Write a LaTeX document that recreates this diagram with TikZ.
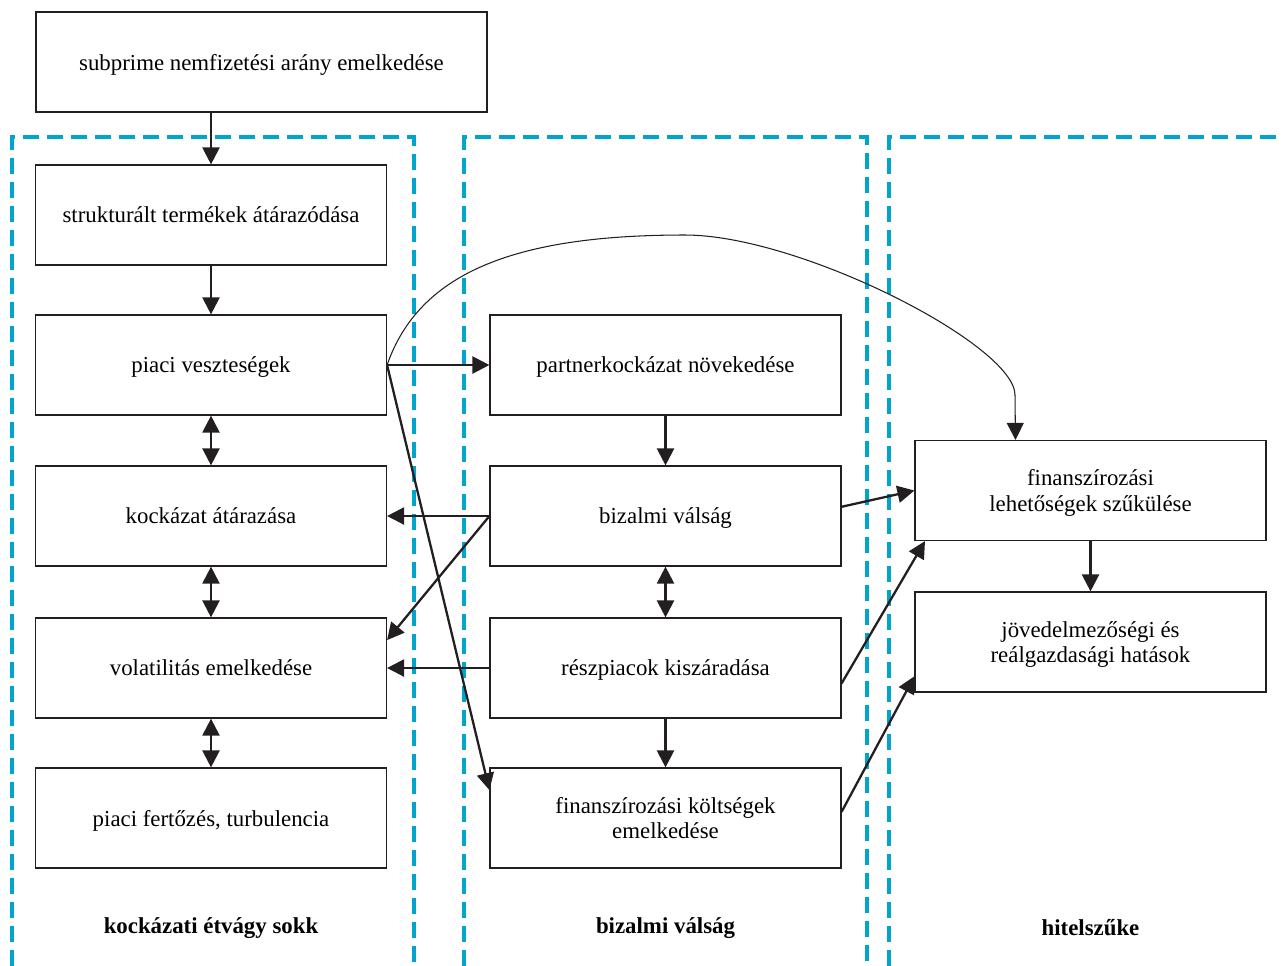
\documentclass[tikz,border=0pt]{standalone}
\usepackage{fontspec}
\setmainfont{Liberation Serif}
\usetikzlibrary{arrows.meta}
\definecolor{keretszin}{RGB}{0,164,204}
\definecolor{vonal}{RGB}{35,31,32}

\begin{document}
\begin{tikzpicture}[x=0.02cm, y=-0.02cm,
	doboz/.style={draw=vonal, line width=0.7pt, minimum width=7.02cm, minimum height=2cm,
		align=center, font=\fontsize{13}{14.5}\selectfont, inner sep=0pt, text depth=0pt},
	nyil/.style={draw=vonal, line width=1.3pt, -{Triangle[length=0.34cm,width=0.34cm]}},
	ketnyil/.style={draw=vonal, line width=1.3pt, {Triangle[length=0.34cm,width=0.34cm]}-{Triangle[length=0.34cm,width=0.34cm]}},
	keret/.style={draw=keretszin, line width=1.8pt, dash pattern=on 0.32cm off 0.16cm},
	cimke/.style={font=\fontsize{13}{16}\selectfont\bfseries}]
			\useasboundingbox (0,0) rectangle (1284,965);

			% Szaggatott keretek
			\draw[keret] (12,990) -- (12,137) -- (414,137) -- (414,990);
			\draw[keret] (464,990) -- (464,137) -- (867,137) -- (867,990);
			\draw[keret] (889,990) -- (889,137) -- (1300,137);

			% Dobozok
			\node[doboz, minimum width=9.02cm] (subprime) at (261.5,62) {subprime nemfizetési arány emelkedése};
			\node[doboz] (strukt) at (211,215) {strukturált termékek átárazódása};
			\node[doboz] (piaci) at (211,365) {piaci veszteségek};
			\node[doboz] (kockazat) at (211,516) {kockázat átárazása};
			\node[doboz] (volat) at (211,668) {volatilitás emelkedése};
			\node[doboz] (fertozes) at (211,818) {piaci fertőzés, turbulencia};

			\node[doboz] (partner) at (665.5,365) {partnerkockázat növekedése};
			\node[doboz] (bizalmi) at (665.5,516) {bizalmi válság};
			\node[doboz] (reszpiac) at (665.5,668) {részpiacok kiszáradása};
			\node[doboz] (koltseg) at (665.5,818) {finanszírozási költségek\\emelkedése};

			\node[doboz] (lehetoseg) at (1090.5,490.5) {finanszírozási\\lehetőségek szűkülése};
			\node[doboz] (jovedelem) at (1090.5,642) {jövedelmezőségi és\\reálgazdasági hatások};

			% Oszlopcimek
			\node[cimke] (cim1) at (211,928) {kockázati étvágy sokk};
			\node[cimke] (cim2) at (665.5,928) {bizalmi válság};
			\node[cimke] (cim3) at (1090.5,928) {hitelszűke};

			% Bal oszlop nyilai
			\draw[nyil] (subprime.south -| strukt.north) -- (strukt.north);
			\draw[nyil] (strukt) -- (piaci);
			\draw[ketnyil] (piaci) -- (kockazat);
			\draw[ketnyil] (kockazat) -- (volat);
			\draw[ketnyil] (volat) -- (fertozes);

			% Kozepso oszlop nyilai
			\draw[nyil] (partner) -- (bizalmi);
			\draw[ketnyil] (bizalmi) -- (reszpiac);
			\draw[nyil] (reszpiac) -- (koltseg);

			% Piaci veszteségek kifelé
			\draw[nyil] (piaci.east) -- (partner.west);
			\draw[nyil] (piaci.east) -- (koltseg.171);
			\coordinate (csucs) at (685,235);
			\draw[vonal, line width=0.6pt, -{Triangle[length=0.34cm,width=0.34cm]}]
				(piaci.east) .. controls (420,270) and (520,235) .. (csucs)
				.. controls (800,235) and (1015,345) .. (1015,395) -- (lehetoseg.146);

			% Vissza balra
			\draw[nyil] (bizalmi.west) -- (kockazat.east);
			\draw[nyil] (bizalmi.west) -- (volat.9);
			\draw[nyil] (reszpiac.west) -- (volat.east);

			% Jobbra
			\draw[nyil] (bizalmi.3) -- (lehetoseg.west);
			\draw[nyil] (reszpiac.-5) -- (lehetoseg.197);
			\draw[nyil] (koltseg.2) -- (jovedelem.191);
			\draw[nyil] (lehetoseg) -- (jovedelem);

		\end{tikzpicture}
\end{document}
